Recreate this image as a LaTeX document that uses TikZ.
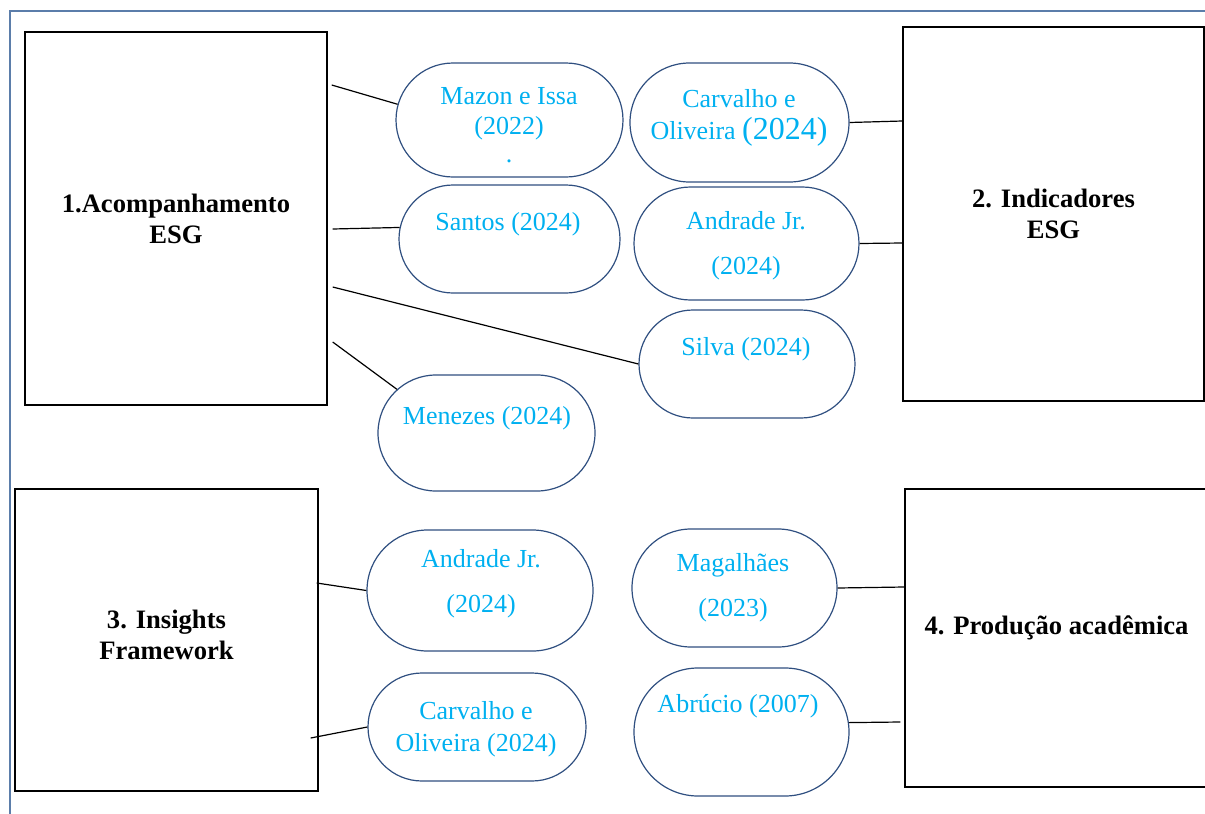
\documentclass[tikz,border=0pt]{standalone}
\usepackage{fontspec}
\setmainfont{Liberation Serif}
\usetikzlibrary{shapes.misc}
\definecolor{framegray}{HTML}{5B7DAA}
\definecolor{ovalblue}{HTML}{2F4F80}
\definecolor{citecyan}{HTML}{00B0F0}
\begin{document}
\begin{tikzpicture}[x=0.5pt,y=-0.5pt,
  topic/.style={draw=black, line width=0.7pt, rectangle, inner sep=0pt, align=center,
    font=\bfseries\fontsize{13.3}{15.5}\selectfont},
  ref/.style={draw=ovalblue, line width=0.6pt, rounded rectangle, inner sep=0pt},
  cite/.style={text=citecyan, inner sep=0pt, align=center, font=\fontsize{13}{15}\selectfont},
  wide/.style={font=\fontsize{13}{22.5}\selectfont},
  link/.style={draw=black, line width=0.6pt}]
  \useasboundingbox (0,0) rectangle (1205,814);
  \draw[framegray, line width=0.75pt] (1207,11) -- (10,11) -- (10,816);

  \node[topic, minimum width=151pt, minimum height=186.5pt] (acomp) at (176,218.5) {1.Acompanhamento\\ESG};
  \node[topic, minimum width=150.5pt, minimum height=187pt] (indic) at (1053.5,214) {2. Indicadores\\ESG};
  \node[topic, minimum width=151.5pt, minimum height=151pt, text depth=5pt] (insig) at (166.5,640) {3. Insights\\Framework};
  \node[topic, minimum width=151.5pt, minimum height=149pt, text depth=13pt] (produ) at (1056.5,638) {4. Produção acadêmica};

  \node[ref, minimum width=113.5pt, minimum height=57pt] (mazon) at (509.5,120) {};
  \node[ref, minimum width=109.5pt, minimum height=59.5pt] (carvA) at (739.5,122.5) {};
  \node[ref, minimum width=110.5pt, minimum height=54pt] (santos) at (509.5,239) {};
  \node[ref, minimum width=112.5pt, minimum height=56.5pt] (andrA) at (746.5,243.5) {};
  \node[ref, minimum width=108pt, minimum height=54pt] (silva) at (747,364) {};
  \node[ref, minimum width=108.5pt, minimum height=58pt] (menez) at (486.5,433) {};
  \node[ref, minimum width=113pt, minimum height=60.5pt] (andrB) at (480,590.5) {};
  \node[ref, minimum width=109pt, minimum height=54pt] (carvB) at (477,727) {};
  \node[ref, minimum width=102.5pt, minimum height=59pt] (magal) at (734.5,588) {};
  \node[ref, minimum width=107.5pt, minimum height=64pt] (abruc) at (741.5,732) {};

  \node[cite] (mazonT) at (509,114) {Mazon e Issa\\(2022)};
  \node[cite] (mazonD) at (509,161) {.};
  \node[cite, font=\fontsize{13}{16}\selectfont] (carvAT) at (739,118) {Carvalho e\\Oliveira {\fontsize{16}{16}\selectfont(2024)}};
  \node[cite] (santosT) at (508,224) {Santos (2024)};
  \node[cite, wide] (andrAT) at (746,245.5) {Andrade Jr.\\(2024)};
  \node[cite] (silvaT) at (746,349) {Silva (2024)};
  \node[cite] (menezT) at (487,418) {Menezes (2024)};
  \node[cite, wide] (andrBT) at (481,584) {Andrade Jr.\\(2024)};
  \node[cite, font=\fontsize{13}{16}\selectfont] (carvBT) at (476,729) {Carvalho e\\Oliveira (2024)};
  \node[cite, wide] (magalT) at (733,587.5) {Magalhães\\(2023)};
  \node[cite] (abrucT) at (738,706) {Abrúcio (2007)};

  \draw[link] ([shift={(4,-133.5)}]acomp.east) -- (mazon.172);
  \draw[link] ([shift={(5,10.5)}]acomp.east) -- (santos.174);
  \draw[link] ([shift={(5,68.5)}]acomp.east) -- (silva.west);
  \draw[link] ([shift={(5,123.5)}]acomp.east) -- (menez.154);
  \draw[link] (carvA.east) -- ([shift={(0,-93)}]indic.west);
  \draw[link] (andrA.east) -- ([shift={(0,29)}]indic.west);
  \draw[link] ([shift={(-2,-57)}]insig.east) -- (andrB.west);
  \draw[link] ([shift={(-8,98)}]insig.east) -- (carvB.west);
  \draw[link] (magal.east) -- ([shift={(0,-51)}]produ.west);
  \draw[link] (abruc.5) -- ([shift={(-4,84)}]produ.west);
\end{tikzpicture}
\end{document}
